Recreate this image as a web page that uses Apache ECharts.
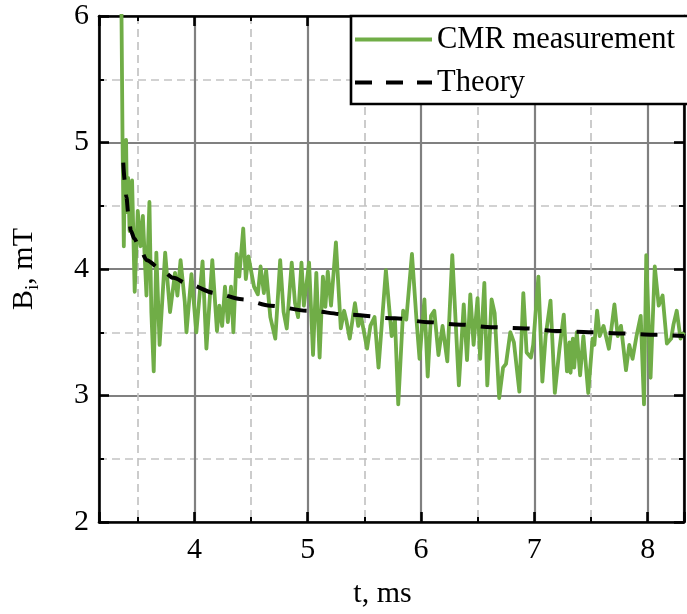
<!DOCTYPE html>
<html>
<head>
<meta charset="utf-8">
<script src="https://cdn.jsdelivr.net/npm/echarts@6/dist/echarts.min.js"></script>
<style>
  html, body { margin: 0; padding: 0; background: #fff; }
  #chart { width: 687px; height: 614px; }
</style>
</head>
<body>
<div id="chart"></div>
<script>
// ---- data ----
const tCMR = [3.352, 3.366, 3.372, 3.377, 3.388, 3.397, 3.405, 3.415, 3.428, 3.450,
  3.473, 3.500, 3.525, 3.545, 3.577, 3.603, 3.620, 3.641, 3.664, 3.693,
  3.742, 3.785, 3.829, 3.850, 3.878, 3.915, 3.930, 3.974, 4.017, 4.072,
  4.106, 4.158, 4.199, 4.220, 4.245, 4.270, 4.295, 4.323, 4.344, 4.373,
  4.396, 4.431, 4.454, 4.477, 4.526, 4.560, 4.584, 4.613, 4.633, 4.670,
  4.714, 4.757, 4.787, 4.815, 4.859, 4.888, 4.915, 4.945, 4.966, 5.012,
  5.047, 5.076, 5.105, 5.134, 5.156, 5.177, 5.206, 5.249, 5.292, 5.321,
  5.340, 5.371, 5.417, 5.446, 5.470, 5.524, 5.553, 5.590, 5.625, 5.690,
  5.741, 5.770, 5.799, 5.842, 5.870, 5.920, 5.960, 5.987, 6.030, 6.059,
  6.088, 6.117, 6.154, 6.190, 6.232, 6.276, 6.334, 6.377, 6.406, 6.435,
  6.464, 6.499, 6.522, 6.559, 6.585, 6.623, 6.650, 6.690, 6.724, 6.750,
  6.788, 6.820, 6.868, 6.903, 6.932, 6.970, 6.990, 7.036, 7.071, 7.100,
  7.143, 7.181, 7.222, 7.260, 7.288, 7.310, 7.320, 7.340, 7.352, 7.375,
  7.404, 7.433, 7.476, 7.514, 7.530, 7.554, 7.577, 7.611, 7.658, 7.707,
  7.736, 7.765, 7.809, 7.838, 7.867, 7.902, 7.939, 7.968, 7.988, 8.026,
  8.063, 8.098, 8.132, 8.170, 8.208, 8.228, 8.257, 8.290, 8.321];
const bCMR = [6.50, 5.00, 4.55, 4.18, 4.95, 5.02, 4.45, 4.72, 4.30, 4.70,
  3.82, 4.46, 4.18, 4.42, 3.79, 4.53, 3.66, 3.19, 4.13, 3.40,
  4.13, 3.66, 3.97, 3.79, 4.07, 3.74, 3.50, 3.96, 3.50, 4.06,
  3.37, 4.07, 3.51, 3.71, 3.55, 3.86, 3.58, 3.86, 3.50, 4.12,
  3.94, 4.32, 3.92, 4.10, 3.86, 3.80, 4.02, 3.81, 3.99, 3.62,
  3.45, 4.07, 3.66, 3.53, 4.05, 3.73, 3.62, 4.05, 3.71, 4.05,
  3.32, 3.97, 3.30, 3.94, 3.70, 3.98, 3.71, 4.21, 3.53, 3.67,
  3.60, 3.45, 3.73, 3.55, 3.63, 3.37, 3.55, 3.62, 3.22, 3.99,
  3.47, 3.60, 2.93, 3.67, 3.60, 4.12, 3.60, 3.29, 3.76, 3.15,
  3.63, 3.67, 3.32, 3.55, 3.27, 4.11, 3.08, 3.72, 3.28, 3.80,
  3.40, 3.77, 3.29, 3.89, 3.08, 3.76, 3.65, 2.98, 3.22, 3.25,
  3.50, 3.42, 3.03, 3.81, 3.34, 3.30, 3.40, 3.94, 3.11, 3.47,
  3.75, 3.02, 3.37, 3.64, 3.19, 3.42, 3.18, 3.45, 3.22, 3.50,
  3.16, 3.47, 3.02, 3.45, 3.40, 3.67, 3.47, 3.55, 3.37, 3.72,
  3.47, 3.55, 3.20, 3.40, 3.29, 3.47, 3.63, 2.93, 4.11, 3.14,
  4.02, 3.71, 3.79, 3.41, 3.45, 3.56, 3.67, 3.45, 3.50];
const tTheory = [3.372, 3.385, 3.400, 3.416, 3.440, 3.470, 3.510, 3.580, 3.700, 3.815,
  3.945, 4.180, 4.420, 4.670, 5.000, 5.350, 5.770, 6.060, 6.350, 6.620,
  6.920, 7.200, 7.480, 7.770, 8.050, 8.321];
const bTheory = [4.84, 4.70, 4.57, 4.44, 4.30, 4.24, 4.18, 4.07, 4.00, 3.93,
  3.88, 3.81, 3.76, 3.71, 3.67, 3.64, 3.61, 3.58, 3.56, 3.54,
  3.53, 3.51, 3.50, 3.49, 3.48, 3.47];
const seriesNames = ['CMR measurement', 'Theory'];
const xTitle = 't, ms';
const yTitleRich = '{b|B}{s|i}{b|, mT}';
const xMin = 3.158, xMax = 8.321;
const yMin = 2, yMax = 6, yStep = 1;

// ---- chart ----
const FONT = "'Liberation Serif', 'Times New Roman', serif";
const zip = (a, b) => a.map((v, i) => [v, b[i]]);
const majorGrid = { color: '#808080', width: 2.2 };
const minorGrid = { color: '#c4c4c4', width: 1.7, type: [8, 5] };
const tick = { inside: true, length: 10, lineStyle: { color: '#000', width: 2.6 } };
const mtick = { show: true, splitNumber: 2, length: 5, lineStyle: { color: '#000', width: 2 } };
const axLine = { show: true, onZero: false, lineStyle: { color: '#000', width: 2.6 } };
const intLabel = v => (Math.abs(v - Math.round(v)) < 1e-6 ? String(Math.round(v)) : '');

const chart = echarts.init(document.getElementById('chart'), null, { renderer: 'canvas' });
chart.setOption({
  animation: false,
  backgroundColor: '#fff',
  grid: { left: 99, top: 16, width: 595, height: 513, containLabel: false },
  legend: {
    orient: 'vertical', left: 351, top: 16,
    padding: [8, 34, 6, 4], itemGap: 12, itemWidth: 77, itemHeight: 4,
    backgroundColor: '#fff', borderColor: '#000', borderWidth: 2.6, borderRadius: 0,
    textStyle: { fontFamily: FONT, fontSize: 30.5, color: '#000' },
    z: 10,
    data: [
      { name: seriesNames[0], icon: 'path://M0,0H77V4H0Z' },
      { name: seriesNames[1], icon: 'path://M0,0H17V4H0Z M31,0H48V4H31Z M62,0H77V4H62Z' }
    ]
  },
  xAxis: [
    {
      type: 'value', position: 'bottom', min: xMin, max: xMax, splitNumber: 5,
      axisLine: axLine, axisTick: tick, minorTick: mtick,
      axisLabel: { formatter: intLabel, fontFamily: FONT, fontSize: 30, color: '#000', margin: 13 },
      splitLine: { show: true, lineStyle: majorGrid },
      minorSplitLine: { show: true, lineStyle: minorGrid },
      name: xTitle, nameLocation: 'middle', nameGap: 57,
      nameTextStyle: { fontFamily: FONT, fontSize: 30, color: '#000', padding: [0, 18, 0, 0] }
    },
    {
      type: 'value', position: 'top', min: xMin, max: xMax, splitNumber: 5,
      axisLine: axLine, axisTick: tick, minorTick: mtick,
      axisLabel: { show: false }, splitLine: { show: false }
    }
  ],
  yAxis: [
    {
      type: 'value', position: 'left', min: yMin, max: yMax, interval: yStep,
      axisLine: axLine, axisTick: tick, minorTick: mtick,
      axisLabel: { fontFamily: FONT, fontSize: 30, color: '#000', margin: 10 },
      splitLine: { show: true, lineStyle: majorGrid },
      minorSplitLine: { show: true, lineStyle: minorGrid },
      name: yTitleRich, nameLocation: 'middle', nameGap: 60,
      nameTextStyle: {
        color: '#000',
        rich: {
          b: { fontFamily: FONT, fontSize: 30, color: '#000', lineHeight: 30 },
          s: { fontFamily: FONT, fontSize: 19, color: '#000', lineHeight: 19, padding: [15, 0, 0, 0], verticalAlign: 'top' }
        }
      }
    },
    {
      type: 'value', position: 'right', min: yMin, max: yMax, interval: yStep,
      axisLine: axLine, axisTick: tick, minorTick: mtick,
      axisLabel: { show: false }, splitLine: { show: false }
    }
  ],
  series: [
    {
      name: seriesNames[0], type: 'line', xAxisIndex: 0, yAxisIndex: 0,
      data: zip(tCMR, bCMR), showSymbol: false, symbol: 'none',
      lineStyle: { color: '#70AD47', width: 3.8, join: 'round' }, itemStyle: { color: '#70AD47' },
      z: 3
    },
    {
      name: seriesNames[1], type: 'line', xAxisIndex: 0, yAxisIndex: 0,
      data: zip(tTheory, bTheory), showSymbol: false, symbol: 'none',
      smooth: 0.3, smoothMonotone: 'x',
      lineStyle: { color: '#000', width: 4, type: [17, 15] }, itemStyle: { color: '#000' },
      z: 4
    }
  ]
});
</script>
</body>
</html>
